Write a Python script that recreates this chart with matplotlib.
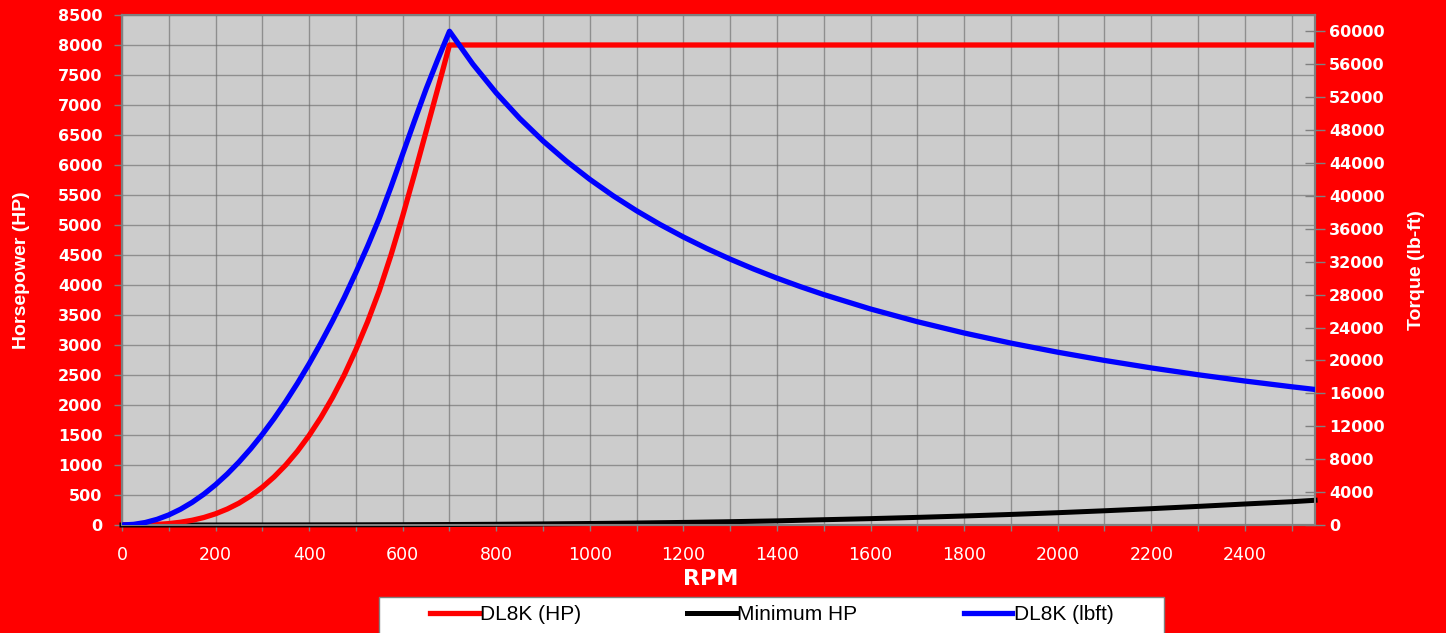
import matplotlib
matplotlib.use("Agg")
import matplotlib.pyplot as plt
from matplotlib.patches import Rectangle
from matplotlib.ticker import MultipleLocator

plt.rcParams['font.family'] = ['Liberation Sans', 'DejaVu Sans']

# DL8K curves
rpm = [0, 25, 50, 75, 100, 125, 150, 175, 200, 225, 250, 275, 300, 325, 350, 375,
       400, 425, 450, 475, 500, 525, 550, 575, 600, 625, 650, 675, 700,
       750, 800, 850, 900, 950, 1000, 1050, 1100, 1150, 1200, 1250, 1300, 1350,
       1400, 1450, 1500, 1600, 1700, 1800, 1900, 2000, 2100, 2200, 2300, 2400,
       2500, 2550]
dl8k_hp = [0, 0.4, 2.9, 9.8, 23, 46, 79, 125, 187, 266, 364, 485, 630, 801, 1000, 1230,
           1493, 1790, 2125, 2500, 2923, 3389, 3906, 4500, 5152, 5843, 6559, 7274, 8000,
           8000, 8000, 8000, 8000, 8000, 8000, 8000, 8000, 8000, 8000, 8000, 8000, 8000,
           8000, 8000, 8000, 8000, 8000, 8000, 8000, 8000, 8000, 8000, 8000, 8000,
           8000, 8000]
dl8k_lbft = [0, 77, 306, 689, 1225, 1914, 2756, 3751, 4900, 6201, 7656, 9264, 11025,
             12939, 15006, 17226, 19600, 22126, 24806, 27640, 30700, 33900, 37300,
             41100, 45100, 49100, 53000, 56600, 60023,
             56021, 52520, 49431, 46685, 44228, 42016, 40015, 38197, 36535, 35013,
             33613, 32320, 31123, 30012, 28977, 28011, 26260, 24715, 23342, 22113,
             21008, 20008, 19098, 18268, 17506, 16806, 16477]

# minimum HP curve
rpm_min = [0, 100, 200, 300, 400, 500, 600, 700, 800, 900, 1000, 1100, 1200, 1300,
           1400, 1500, 1600, 1700, 1800, 1900, 2000, 2100, 2200, 2300, 2400, 2500, 2550]
min_hp = [0, 0, 0.5, 1, 2, 3, 5, 8, 12, 18, 25, 33, 43, 55, 69, 88, 106, 127, 150,
          176, 205, 237, 272, 310, 350, 388, 412]

bg = '#ff0000'
W, H = 1446, 633
fig = plt.figure(figsize=(W/100, H/100), dpi=100, facecolor=bg)
ax = fig.add_axes([122/W, 1-525/H, (1315-122)/W, (525-15)/H])
ax.set_facecolor('#cccccc')

ax.plot(rpm_min, min_hp, color='black', lw=3.6, label='Minimum HP', zorder=3, clip_on=False)
ax.plot(rpm, dl8k_hp, color='#ff0000', lw=3.8, label='DL8K (HP)', zorder=4)

ax.set_xlim(0, 2550)
ax.set_ylim(0, 8500)
ax.xaxis.set_major_locator(MultipleLocator(200))
ax.xaxis.set_minor_locator(MultipleLocator(100))
ax.yaxis.set_major_locator(MultipleLocator(500))
ax.grid(True, which='both', axis='x', color='#666666', lw=1, alpha=0.6)
ax.grid(True, which='major', axis='y', color='#666666', lw=1, alpha=0.6)
ax.set_axisbelow(True)

for s in ax.spines.values():
    s.set_color('#808080')
    s.set_linewidth(1.5)

ax.tick_params(axis='y', colors='#808080', length=6, width=1, labelcolor='white', pad=8)
ax.tick_params(axis='x', which='both', colors='#808080', length=4, width=1,
               labelcolor='white', pad=11)
for t in ax.get_yticklabels():
    t.set_fontfamily('DejaVu Sans')
    t.set_fontweight('bold')
    t.set_fontsize(11.5)
for t in ax.get_xticklabels():
    t.set_fontfamily('DejaVu Sans')
    t.set_fontsize(12.5)

ax.set_xlabel('RPM', color='white', fontsize=16, fontweight='bold', fontfamily='DejaVu Sans')
ax.xaxis.set_label_coords(0.4936, -(569-525)/510)
ax.set_ylabel('Horsepower (HP)', color='white', fontsize=14, fontweight='bold')
ax.yaxis.set_label_coords((30-122)/1193, 0.5)

ax2 = ax.twinx()
ax2.plot(rpm, dl8k_lbft, color='#0000ff', lw=3.8, label='DL8K (lbft)', zorder=5)
ax2.set_ylim(0, 62000)
ax2.set_yticks(range(0, 60001, 4000))
ax2.tick_params(axis='y', colors='#808080', length=14, width=1, direction='inout',
                labelcolor='white', pad=3)
for t in ax2.get_yticklabels():
    t.set_fontfamily('DejaVu Sans')
    t.set_fontweight('bold')
    t.set_fontsize(11.5)
for s in ax2.spines.values():
    s.set_color('#808080')
    s.set_linewidth(1.5)
ax2.set_ylabel('Torque (lb-ft)', color='white', fontsize=14, fontweight='bold')
ax2.yaxis.set_label_coords((1408-122)/1193, 0.5)

# legend box
fig.patches.append(Rectangle((379/W, -0.01), (1164-379)/W, (633-597)/H + 0.01,
                             transform=fig.transFigure, facecolor='white',
                             edgecolor='#808080', lw=1, zorder=0))
h1, l1 = ax.get_legend_handles_labels()
h2, l2 = ax2.get_legend_handles_labels()
handles = [h1[1], h1[0], h2[0]]
labels = [l1[1], l1[0], l2[0]]
leg = fig.legend(handles, labels, loc='center', ncol=3,
                 bbox_to_anchor=(771.5/W, 1-615/H),
                 fontsize=15, frameon=False, handlelength=2.35,
                 handletextpad=0.05, columnspacing=5.1, borderaxespad=0)

fig.savefig('out.png', dpi=100, facecolor=bg)
